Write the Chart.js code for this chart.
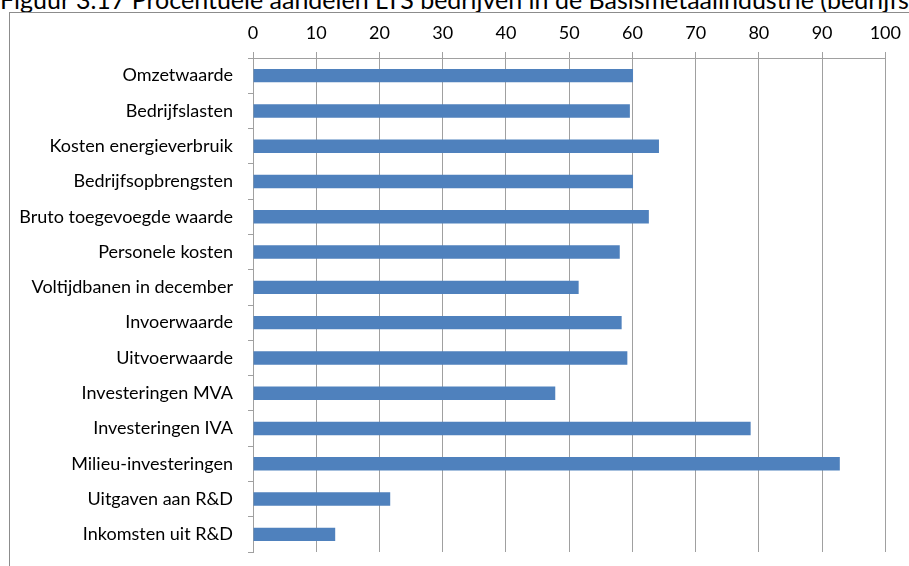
<!DOCTYPE html>
<html>
<head>
<meta charset="utf-8">
<script src="https://cdn.jsdelivr.net/npm/chart.js@4"></script>
<style>
  html, body { margin: 0; padding: 0; background: #fff; overflow: hidden; }
  #wrap { position: relative; width: 909px; height: 566px; overflow: hidden; }
  #title {
    position: absolute; left: 0; top: -13px; white-space: nowrap;
    font-family: Lato, "Noto Sans", sans-serif; font-size: 25px; line-height: 25px; color: #000;
  }
  #frame {
    position: absolute; left: 9px; top: 12px; width: 1000px; height: 1000px;
    border: 1px solid #8c8c8c; box-sizing: border-box;
  }
  #chart { position: absolute; left: 0; top: 0; }
</style>
</head>
<body>
<div id="wrap">
  <div id="title">Figuur 3.17 Procentuele aandelen LTS bedrijven in de Basismetaalindustrie (bedrijfs</div>
  <div id="frame"></div>
  <canvas id="chart" width="909" height="566"></canvas>
</div>
<script>
const categories = [
  "Omzetwaarde",
  "Bedrijfslasten",
  "Kosten energieverbruik",
  "Bedrijfsopbrengsten",
  "Bruto toegevoegde waarde",
  "Personele kosten",
  "Voltijdbanen in december",
  "Invoerwaarde",
  "Uitvoerwaarde",
  "Investeringen MVA",
  "Investeringen IVA",
  "Milieu-investeringen",
  "Uitgaven aan R&D",
  "Inkomsten uit R&D"
];
const shares = [60.1, 59.6, 64.2, 60.1, 62.6, 58.0, 51.5, 58.3, 59.2, 47.8, 78.7, 92.8, 21.7, 13.0];
const xTicks = [0, 10, 20, 30, 40, 50, 60, 70, 80, 90, 100];

const GRID = "#a0a0a0";
const FONT = { family: "Lato, 'Noto Sans', sans-serif", size: 18 };

new Chart(document.getElementById("chart"), {
  type: "bar",
  data: {
    labels: categories,
    datasets: [{
      data: shares,
      backgroundColor: "#4f81bd",
      borderWidth: 0,
      barPercentage: 0.38,
      categoryPercentage: 1
    }]
  },
  options: {
    indexAxis: "y",
    responsive: false,
    animation: false,
    layout: { padding: { left: 0, top: 0, right: 22, bottom: 14 } },
    plugins: { legend: { display: false }, tooltip: { enabled: false } },
    scales: {
      x: {
        position: "top",
        min: 0,
        max: 100,
        afterFit: s => { s.height = 58; },
        afterBuildTicks: s => { s.ticks = xTicks.map(v => ({ value: v })); },
        ticks: { color: "#000", font: FONT, padding: 8, maxRotation: 0 },
        grid: { color: GRID, tickLength: 6 },
        border: { color: GRID }
      },
      y: {
        afterFit: s => { s.width = 253; s.paddingTop = 0; s.paddingBottom = 0; },
        ticks: { color: "#000", font: FONT, padding: 15, autoSkip: false },
        grid: { offset: true, drawOnChartArea: false, color: GRID, tickLength: 5 },
        border: { color: GRID }
      }
    }
  }
});
</script>
</body>
</html>
